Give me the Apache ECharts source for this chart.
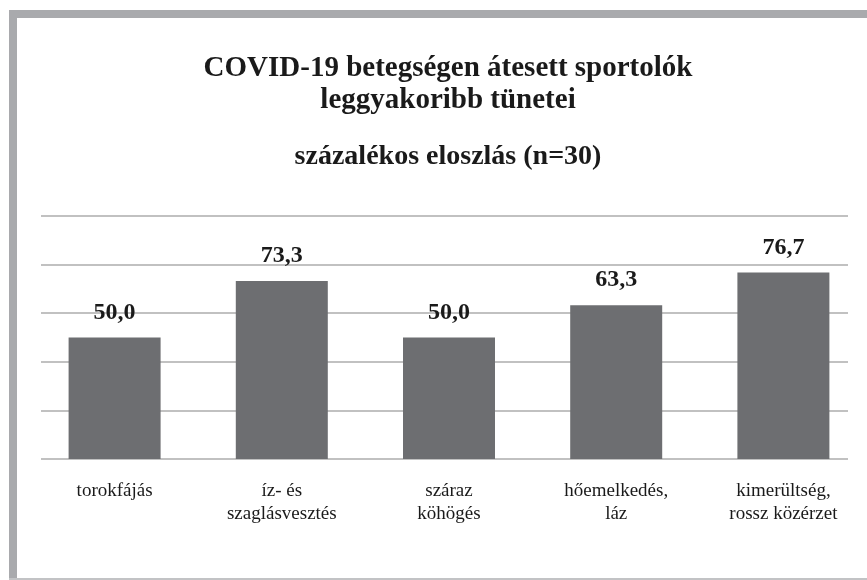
<!DOCTYPE html>
<html>
<head>
<meta charset="utf-8">
<script src="https://cdn.jsdelivr.net/npm/echarts@6/dist/echarts.min.js"></script>
<style>
html,body{margin:0;padding:0;background:#fff;}
#chart{width:867px;height:580px;}
</style>
</head>
<body>
<div id="chart"></div>
<script>
const titleLines = ["COVID-19 betegségen átesett sportolók\nleggyakoribb tünetei", "százalékos eloszlás (n=30)"];
const categories = ["torokfájás", "íz- és\nszaglásvesztés", "száraz\nköhögés", "hőemelkedés,\nláz", "kimerültség,\nrossz közérzet"];
const values = [50.0, 73.3, 50.0, 63.3, 76.7];
const yTicks = [0, 20, 40, 60, 80, 100];

const serif = "'Liberation Serif', 'DejaVu Serif', serif";
const chart = echarts.init(document.getElementById('chart'), null, {renderer: 'canvas'});
chart.setOption({
  backgroundColor: '#ffffff',
  animation: false,
  title: [
    {text: titleLines[0], left: 443, top: 48, textAlign: 'center',
     textStyle: {fontFamily: serif, fontWeight: 'bold', fontSize: 29, color: '#1a1a1a', lineHeight: 32}},
    {text: titleLines[1], left: 443, top: 136, textAlign: 'center',
     textStyle: {fontFamily: serif, fontWeight: 'bold', fontSize: 28, color: '#1a1a1a', lineHeight: 32}}
  ],
  graphic: [
    {type: 'rect', shape: {x: 9, y: 10, width: 858, height: 8}, style: {fill: '#a9aaad'}, z: 100},
    {type: 'rect', shape: {x: 9, y: 10, width: 8, height: 570}, style: {fill: '#a9aaad'}, z: 100},
    {type: 'rect', shape: {x: 9, y: 578, width: 858, height: 2}, style: {fill: '#c2c3c5'}, z: 100}
  ],
  grid: [
    {left: 41, right: 19, top: 216, bottom: 121},
    {left: 31, right: 0, top: 216, bottom: 121}
  ],
  xAxis: [
    {type: 'category', gridIndex: 0, data: categories, show: false},
    {type: 'category', gridIndex: 1, data: categories,
     axisLine: {show: false}, axisTick: {show: false}, splitLine: {show: false},
     axisLabel: {interval: 0, margin: 21, fontFamily: serif, fontSize: 19, color: '#1a1a1a', lineHeight: 23}}
  ],
  yAxis: [
    {type: 'value', gridIndex: 0, min: yTicks[0], max: yTicks[yTicks.length - 1], interval: 20,
     axisLine: {show: false}, axisTick: {show: false}, axisLabel: {show: false},
     splitLine: {show: true, lineStyle: {color: '#adadad', width: 1.5}}},
    {type: 'value', gridIndex: 1, min: yTicks[0], max: yTicks[yTicks.length - 1], interval: 20, show: false,
     splitLine: {show: false}}
  ],
  series: [{
    type: 'bar',
    xAxisIndex: 1,
    yAxisIndex: 1,
    data: values,
    barWidth: 92,
    itemStyle: {color: '#6d6e71'},
    label: {
      show: true, position: 'top', distance: 13,
      fontFamily: serif, fontWeight: 'bold', fontSize: 24, color: '#1a1a1a',
      formatter: p => p.value.toFixed(1).replace('.', ',')
    }
  }]
});
</script>
</body>
</html>
